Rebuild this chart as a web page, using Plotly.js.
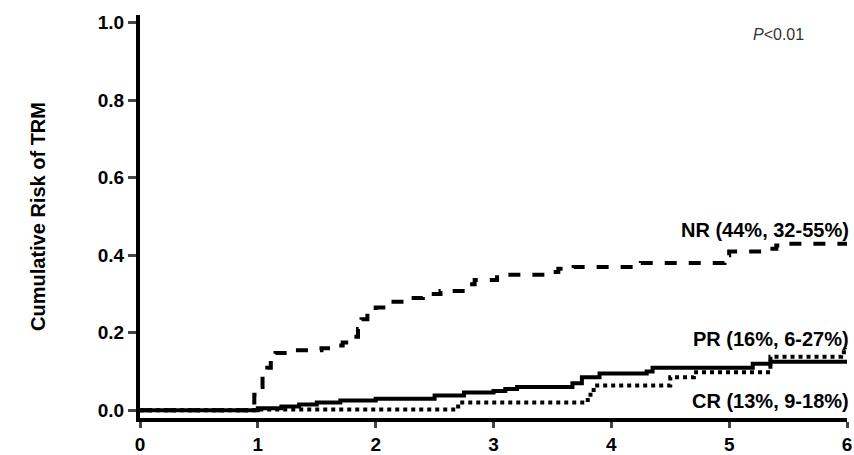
<!DOCTYPE html>
<html>
<head>
<script src="https://cdn.plot.ly/plotly-3.0.1.min.js"></script>
<style>body{margin:0}</style>
</head>
<body>
<div id="plot" style="width:854px;height:455px"></div>
<script>
// step curves
const nrX = [0, 0.9, 0.93, 0.97, 1.0, 1.04, 1.08, 1.11, 1.15, 1.3, 1.54, 1.62, 1.72, 1.81, 1.85, 1.88, 1.93, 2.0, 2.13, 2.25, 2.4, 2.55, 2.76, 2.8, 2.84, 3.03, 3.47, 3.55, 3.68, 4.25, 4.96, 5.0, 5.31, 5.4, 5.47, 6.0];
const nrY = [0, 0, 0.02, 0.04, 0.06, 0.09, 0.11, 0.13, 0.148, 0.155, 0.16, 0.167, 0.175, 0.19, 0.21, 0.235, 0.255, 0.265, 0.28, 0.29, 0.30, 0.308, 0.315, 0.325, 0.336, 0.35, 0.357, 0.365, 0.37, 0.38, 0.40, 0.41, 0.417, 0.425, 0.43, 0.43];
const prX = [0, 1.0, 1.2, 1.35, 1.5, 1.7, 2.0, 2.5, 2.75, 3.0, 3.1, 3.2, 3.67, 3.75, 3.9, 4.3, 4.35, 5.15, 5.2, 5.35, 6.0];
const prY = [0, 0.005, 0.01, 0.015, 0.02, 0.025, 0.03, 0.038, 0.046, 0.05, 0.055, 0.06, 0.07, 0.085, 0.095, 0.1, 0.11, 0.11, 0.12, 0.125, 0.127];
const crX = [0, 1.0, 2.7, 3.8, 3.85, 4.5, 4.7, 5.35, 5.95, 6.0];
const crY = [0, 0.002, 0.02, 0.04, 0.064, 0.085, 0.098, 0.138, 0.15, 0.16];
const labels = ["NR (44%, 32-55%)", "PR (16%, 6-27%)", "CR (13%, 9-18%)"];
const labelY = [0.465, 0.185, 0.025];

const line = (x, y, dash) => ({x: x, y: y, mode: "lines", line: {shape: "hv", color: "black", width: 4, dash: dash}, hoverinfo: "none"});
const data = [line(nrX, nrY, "dash"), line(prX, prY, "solid"), line(crX, crY, "dot")];

const f = {family: "Liberation Sans, Arial", size: 20, color: "black", weight: "bold"};
const annotations = labels.map((t, i) => ({x: 1.005, y: labelY[i], xref: "paper", yref: "y", xanchor: "right", yanchor: "middle", text: t, showarrow: false, font: f}));
annotations.push({x: 5.65, y: 0.97, xref: "x", yref: "y", xanchor: "right", text: "<i>P</i><0.01", showarrow: false, font: {family: "Liberation Sans, Arial", size: 16, color: "#333"}});

const tf = {family: "Liberation Sans, Arial", size: 19, color: "black", weight: "bold"};
const layout = {
  margin: {l: 140, r: 7, t: 15, b: 37},
  showlegend: false,
  plot_bgcolor: "white",
  xaxis: {range: [0, 6], tickvals: [0, 1, 2, 3, 4, 5, 6], ticks: "outside", ticklen: 6, tickwidth: 3, showgrid: false, zeroline: false,
    showline: true, linewidth: 4, linecolor: "black", tickfont: tf},
  yaxis: {range: [-0.02, 1.02], tickvals: [0, 0.2, 0.4, 0.6, 0.8, 1.0], tickformat: ".1f", ticks: "outside", ticklen: 8, tickwidth: 3,
    showgrid: false, zeroline: false, showline: true, linewidth: 4, linecolor: "black", tickfont: tf,
    title: {text: "Cumulative Risk of TRM", font: f, standoff: 48}},
  annotations: annotations
};
Plotly.newPlot("plot", data, layout, {staticPlot: true});
</script>
</body>
</html>
